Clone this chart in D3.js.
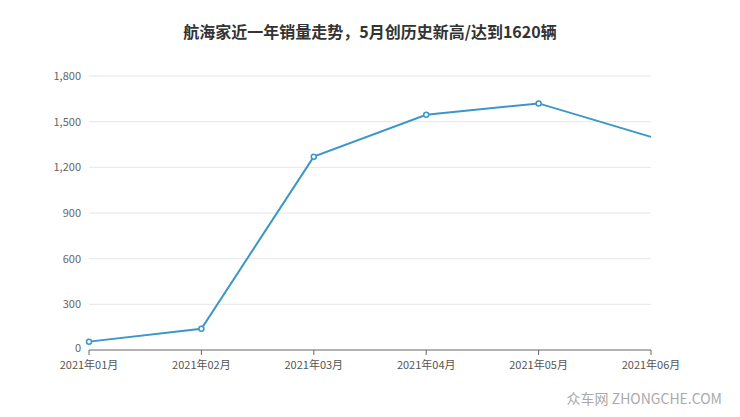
<!DOCTYPE html>
<html><head><meta charset="utf-8">
<script src="https://cdn.jsdelivr.net/npm/d3@7"></script>
<style>body{margin:0;background:#fff;font-family:"Noto Sans CJK SC","Noto Sans",sans-serif}</style>
</head><body><svg id="c" width="740" height="417"></svg>
<script>
const categories=["2021年01月","2021年02月","2021年03月","2021年04月","2021年05月","2021年06月"];
const sales=[55,140,1270,1545,1620,1400];
const yTicks=[0,300,600,900,1200,1500,1800];
const svg=d3.select("#c");
const x=d3.scalePoint().domain(categories).range([89,651]);
const y=d3.scaleLinear().domain([0,1800]).range([350,76]);
svg.append("text").attr("x",370).attr("y",38).attr("text-anchor","middle").attr("font-size",16).attr("font-weight","bold").attr("fill","#333").text("航海家近一年销量走势，5月创历史新高/达到1620辆");
const g=svg.append("g");
yTicks.forEach(t=>{
 if(t>0) g.append("line").attr("x1",89).attr("x2",651).attr("y1",y(t)).attr("y2",y(t)).attr("stroke","#e6e6e6");
 g.append("text").attr("x",81).attr("y",y(t)+(t===0?2:4)).attr("text-anchor","end").attr("font-size",11).attr("fill","#666").text(d3.format(",")(t));
});
g.append("line").attr("x1",89).attr("x2",651).attr("y1",350).attr("y2",350).attr("stroke","#666");
categories.forEach(c=>{
 g.append("line").attr("x1",x(c)).attr("x2",x(c)).attr("y1",350).attr("y2",355).attr("stroke","#666");
 g.append("text").attr("x",x(c)).attr("y",369).attr("text-anchor","middle").attr("font-size",11).attr("fill","#555").text(c);
});
const line=d3.line().x((d,i)=>x(categories[i])).y(d=>y(d));
g.append("path").datum(sales).attr("d",line).attr("fill","none").attr("stroke","#3b97c8").attr("stroke-width",2);
g.selectAll("circle").data(sales.slice(0,5)).join("circle").attr("cx",(d,i)=>x(categories[i])).attr("cy",d=>y(d)).attr("r",2.5).attr("fill","#fff").attr("stroke","#3b97c8").attr("stroke-width",1.5);
svg.append("text").attr("x",722).attr("y",404).attr("text-anchor","end").attr("font-size",14).attr("fill","#aaa").text("众车网 ZHONGCHE.COM");
</script></body></html>
